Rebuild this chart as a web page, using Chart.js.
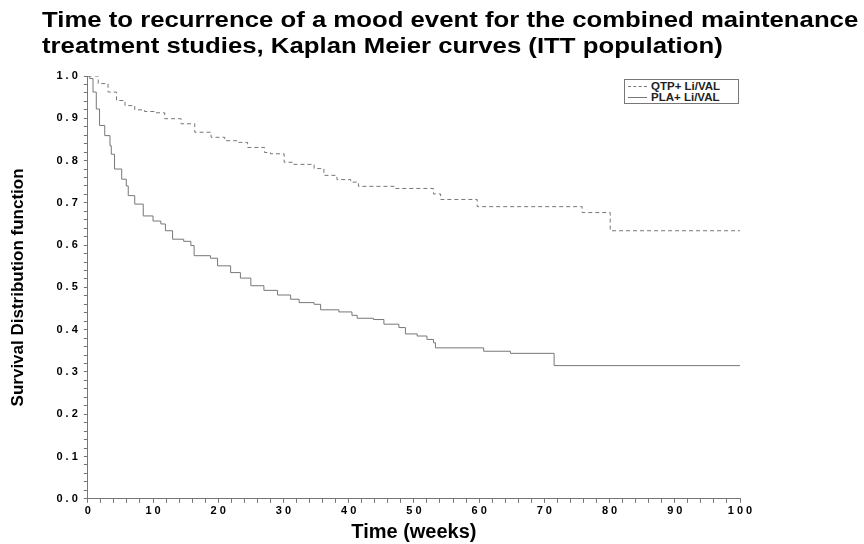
<!DOCTYPE html>
<html>
<head>
<meta charset="utf-8">
<script src="https://cdn.jsdelivr.net/npm/chart.js@4/dist/chart.umd.min.js"></script>
<style>
  html, body { margin: 0; padding: 0; background: #fff; }
  #wrap { position: relative; width: 864px; height: 544px; }
  #titulo {
    position: absolute; left: 42px; top: 7px;
    font: bold 22px "Liberation Sans", Arial, sans-serif;
    line-height: 26px; color: #000; white-space: nowrap;
    transform: scaleX(1.17); transform-origin: left top;
  }
  #legenda {
    position: absolute; left: 624px; top: 79px; width: 115px; height: 25px;
    border: 1px solid #777; background: #fff;
    font: bold 11.5px "Liberation Sans", Arial, sans-serif; color: #222;
    padding: 1px 0 0 3px; box-sizing: border-box;
  }
  #legenda div { height: 11px; line-height: 11px; white-space: nowrap; }
  #legenda span.amostra { display: inline-block; width: 19px; margin-right: 4px; vertical-align: middle; }
  canvas { position: absolute; left: 0; top: 0; }
</style>
</head>
<body>
<div id="wrap">
  <canvas id="grafico" width="864" height="544"></canvas>
  <div id="titulo">Time to recurrence of a mood event for the combined maintenance<br>treatment studies, Kaplan Meier curves (ITT population)</div>
  <div id="legenda">
    <div><span class="amostra" style="border-top:1px dashed #777"></span>QTP+ Li/VAL</div>
    <div><span class="amostra" style="border-top:1px solid #777"></span>PLA+ Li/VAL</div>
  </div>
</div>
<script>
// Dados (semanas, sobrevida)
const seriesNomes = ['QTP+ Li/VAL', 'PLA+ Li/VAL'];

const qtpTempo = [0, 1.6, 3.1, 4.4, 5.7, 7.2, 8.7, 10.3, 11.8, 14.3, 16.4, 18.9, 21.0, 23.0, 24.5, 27.1, 28.0, 30.1, 31.6, 34.7, 36.2, 38.2, 40.3, 41.5, 47.0, 53.0, 54.1, 59.7, 75.8, 80.1, 100];
const qtpSobrevida = [1.0, 0.982, 0.962, 0.942, 0.930, 0.920, 0.916, 0.913, 0.899, 0.887, 0.867, 0.855, 0.847, 0.843, 0.831, 0.819, 0.816, 0.796, 0.791, 0.781, 0.765, 0.755, 0.749, 0.739, 0.734, 0.721, 0.708, 0.691, 0.677, 0.634, 0.634];

const plaTempo = [0, 0.3, 0.8, 1.3, 1.8, 2.6, 3.4, 3.6, 4.1, 5.2, 5.9, 6.2, 7.2, 8.5, 10.0, 11.2, 11.9, 13.0, 14.7, 15.8, 16.3, 18.8, 19.9, 21.9, 23.4, 25.0, 27.0, 29.1, 31.1, 32.4, 34.7, 35.7, 38.5, 40.5, 41.3, 43.8, 45.4, 47.7, 48.7, 50.5, 52.0, 53.0, 53.3, 60.7, 64.8, 71.5, 100];
const plaSobrevida = [1.0, 0.994, 0.962, 0.922, 0.883, 0.859, 0.835, 0.815, 0.780, 0.756, 0.740, 0.717, 0.697, 0.669, 0.657, 0.650, 0.634, 0.614, 0.609, 0.599, 0.575, 0.569, 0.551, 0.535, 0.522, 0.504, 0.493, 0.482, 0.472, 0.464, 0.460, 0.447, 0.442, 0.434, 0.427, 0.424, 0.413, 0.405, 0.390, 0.385, 0.377, 0.369, 0.357, 0.349, 0.344, 0.315, 0.315];

// Rótulos dos eixos
const xTicksMaiores = [0, 10, 20, 30, 40, 50, 60, 70, 80, 90, 100];
const yTicksMaiores = [0.0, 0.1, 0.2, 0.3, 0.4, 0.5, 0.6, 0.7, 0.8, 0.9, 1.0];

function pontos(tempos, valores) {
    return tempos.map((t, i) => ({ x: t, y: valores[i] }));
}

function espacado(txt) {
    return txt.split('').join(' ');
}

function ehMaior(lista, v) {
    return lista.some(m => Math.abs(m - v) < 1e-6);
}

const familia = '"Liberation Sans", Arial, sans-serif';
const fonteTicks = { family: familia, size: 11, weight: 'bold' };

const ctx = document.getElementById('grafico').getContext('2d');
const chart = new Chart(ctx, {
    type: 'line',
    data: {
        datasets: [
            {
                label: seriesNomes[0],
                data: pontos(qtpTempo, qtpSobrevida),
                borderColor: '#777',
                borderWidth: 1,
                borderDash: [4, 3],
                pointRadius: 0,
                stepped: 'before',
                fill: false
            },
            {
                label: seriesNomes[1],
                data: pontos(plaTempo, plaSobrevida),
                borderColor: '#777',
                borderWidth: 1,
                pointRadius: 0,
                stepped: 'before',
                fill: false
            }
        ]
    },
    options: {
        responsive: false,
        animation: false,
        layout: { padding: { top: 76, right: 124, left: 4, bottom: 0 } },
        plugins: {
            legend: { display: false },
            tooltip: { enabled: false }
        },
        scales: {
            x: {
                type: 'linear',
                min: 0,
                max: 100,
                border: { color: '#777', width: 1 },
                grid: { drawOnChartArea: false, tickLength: 4, tickColor: '#777' },
                ticks: {
                    stepSize: 2,
                    autoSkip: false,
                    maxRotation: 0,
                    maxTicksLimit: 1000,
                    color: '#000',
                    font: fonteTicks,
                    padding: 2,
                    callback: v => ehMaior(xTicksMaiores, v) ? espacado(String(Math.round(v))) : ''
                },
                title: {
                    display: true,
                    text: 'Time (weeks)',
                    color: '#000',
                    font: { family: familia, size: 20, weight: 'bold' },
                    padding: { top: 0, bottom: 0 }
                }
            },
            y: {
                type: 'linear',
                min: 0,
                max: 1,
                border: { color: '#777', width: 1 },
                grid: { drawOnChartArea: false, tickLength: 4, tickColor: '#777' },
                ticks: {
                    stepSize: 0.02,
                    autoSkip: false,
                    maxTicksLimit: 1000,
                    color: '#000',
                    font: fonteTicks,
                    padding: 6,
                    callback: v => ehMaior(yTicksMaiores, v) ? espacado(v.toFixed(1)) : ''
                },
                title: {
                    display: true,
                    text: 'Survival Distribution function',
                    color: '#000',
                    font: { family: familia, size: 17, weight: 'bold' },
                    padding: { top: 4, bottom: 22 }
                }
            }
        }
    }
});
</script>
</body>
</html>
